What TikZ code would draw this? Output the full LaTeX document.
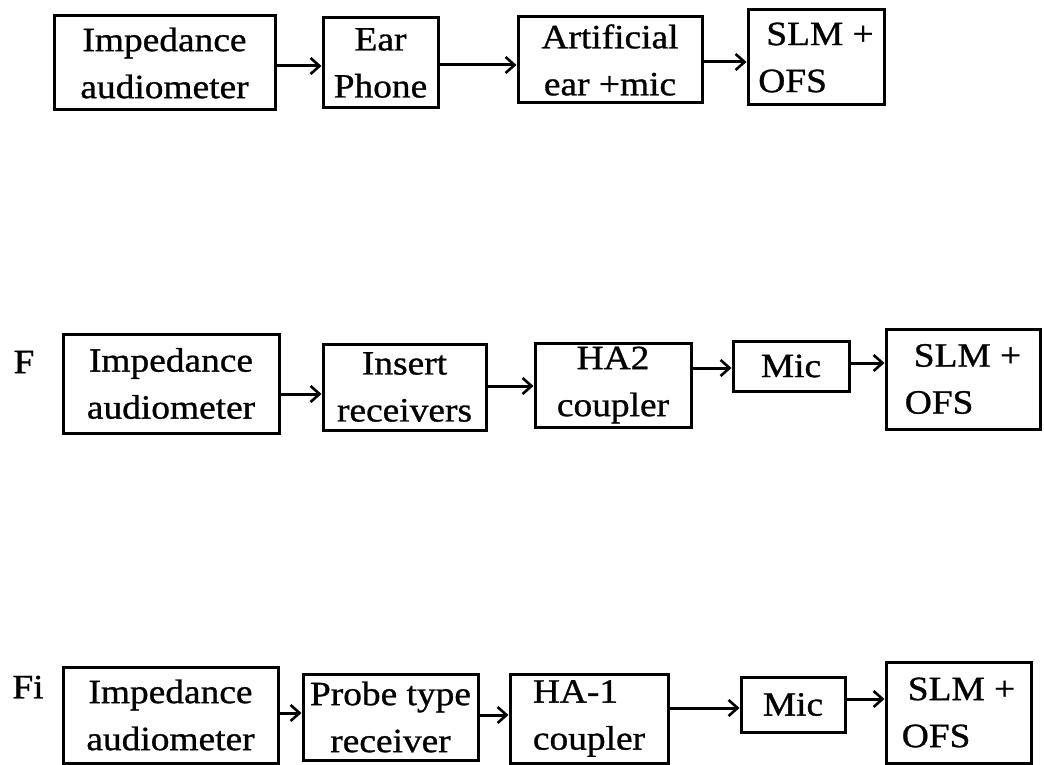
\documentclass[tikz,border=0pt]{standalone}
\usepackage{fontspec}
\setmainfont{Liberation Serif}[FakeStretch=1.1,FakeBold=0.9]
\usetikzlibrary{arrows.meta}
\tikzset{
  blk/.style={draw, line width=3pt, inner sep=0pt, align=center,
              font=\fontsize{34}{47}\selectfont},
  arr/.style={line width=3pt, -{Straight Barb[length=9pt,width=16pt,line width=2.6pt]}},
  lbl/.style={inner sep=0pt, font=\fontsize{34}{40}\selectfont}
}
\begin{document}
\begin{tikzpicture}[x=1pt,y=-1pt]
\useasboundingbox (0,0) rectangle (1044,765);
% Row 1
\node[blk, minimum width=221pt, minimum height=94pt] (A1) at (164.5,63) {Impedance\\audiometer};
\node[blk, minimum width=115pt, minimum height=90pt] (B1) at (380.5,63) {Ear\\Phone};
\node[blk, minimum width=184pt, minimum height=86pt] (C1) at (610,60) {Artificial\\ear +mic};
\node[blk, minimum width=136pt, minimum height=95pt, align=left] (D1) at (816,57.5) {\hspace*{8pt}SLM +\\OFS};
\draw[arr] (A1.east |- 0,66) -- (B1.west |- 0,66);
\draw[arr] (B1.east |- 0,65) -- (C1.west |- 0,65);
\draw[arr] (C1.east |- 0,62) -- (D1.west |- 0,62);
% Row 2
\node[lbl] (F2) at (24,362) {F};
\node[blk, minimum width=216pt, minimum height=99pt] (A2) at (171,383.5) {Impedance\\audiometer};
\node[blk, minimum width=163pt, minimum height=86pt] (B2) at (404.5,387) {Insert\\receivers};
\node[blk, minimum width=156pt, minimum height=84pt] (C2) at (613,385) {HA2\\coupler};
\node[blk, minimum width=116pt, minimum height=50pt] (D2) at (791,366) {Mic};
\node[blk, minimum width=154pt, minimum height=100pt, align=left] (E2) at (963,379) {\hspace*{9pt}SLM +\\OFS};
\draw[arr] (A2.east |- 0,394) -- (B2.west |- 0,394);
\draw[arr] (B2.east |- 0,386) -- (C2.west |- 0,386);
\draw[arr] (C2.east |- 0,368) -- (D2.west |- 0,368);
\draw[arr] (D2.east |- 0,363) -- (E2.west |- 0,363);
% Row 3
\node[lbl] (F3) at (28,687) {Fi};
\node[blk, minimum width=215pt, minimum height=96pt] (A3) at (170.5,715) {Impedance\\audiometer};
\node[blk, minimum width=175pt, minimum height=86pt] (B3) at (390.5,717) {Probe type\\receiver};
\node[blk, minimum width=158pt, minimum height=89pt, align=left] (C3) at (589,718.5) {HA-1\\coupler};
\node[blk, minimum width=104pt, minimum height=55pt] (D3) at (793,704.5) {Mic};
\node[blk, minimum width=145pt, minimum height=101pt, align=left] (E3) at (958.5,712.5) {\hspace*{6pt}SLM +\\OFS};
\draw[arr] (A3.east |- 0,713) -- (B3.west |- 0,713);
\draw[arr] (B3.east |- 0,715) -- (C3.west |- 0,715);
\draw[arr] (C3.east |- 0,708) -- (D3.west |- 0,708);
\draw[arr] (D3.east |- 0,699) -- (E3.west |- 0,699);
\end{tikzpicture}
\end{document}
